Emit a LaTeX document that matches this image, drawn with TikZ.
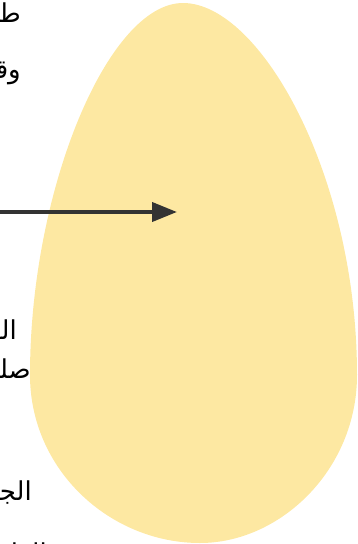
\documentclass[tikz,border=0pt]{standalone}
\usepackage{fontspec}
\newfontfamily\arabicfont[Script=Arabic]{DejaVu Sans}
\TeXXeTstate=1
\usetikzlibrary{arrows.meta}
\definecolor{eggyellow}{HTML}{FDE8A2}
\definecolor{arrowgray}{HTML}{333333}

\begin{document}
\begin{tikzpicture}[
  x=1pt, y=-1pt,
  lbl/.style={anchor=east, inner sep=0pt, font=\arabicfont\fontsize{26}{30}\selectfont},
  pointer/.style={-{Triangle[length=25pt, width=19pt]}, line width=4pt, arrowgray},
]
\useasboundingbox (0,0) rectangle (358,544);
\clip (0,0) rectangle (358,544);
% egg
\fill[eggyellow] (183,3) .. controls (260,3) and (357,175) .. (357,375)
  .. controls (357,470) and (280,543) .. (200,543)
  .. controls (110,543) and (30,470) .. (30,375)
  .. controls (30,190) and (108,3) .. (183,3) -- cycle;
% labels, cut off at the left edge
\node[lbl] (top1) at (21,15) {\beginR طبقة\endR};
\node[lbl] (top2) at (21,72) {\beginR وقاية\endR};
\node[lbl] (mid1) at (17,333) {\beginR القشرة\endR};
\node[lbl] (mid2) at (31,371) {\beginR صلبة\endR};
\node[lbl] (low1) at (32,494) {\beginR الجزء\endR};
\node[lbl] (low2) at (47,556) {\beginR الداخلي\endR};
% pointer
\coordinate (arrowstart) at (-5,212);
\coordinate (arrowtip) at (177,212);
\draw[pointer] (arrowstart) -- (arrowtip);
\end{tikzpicture}
\end{document}
